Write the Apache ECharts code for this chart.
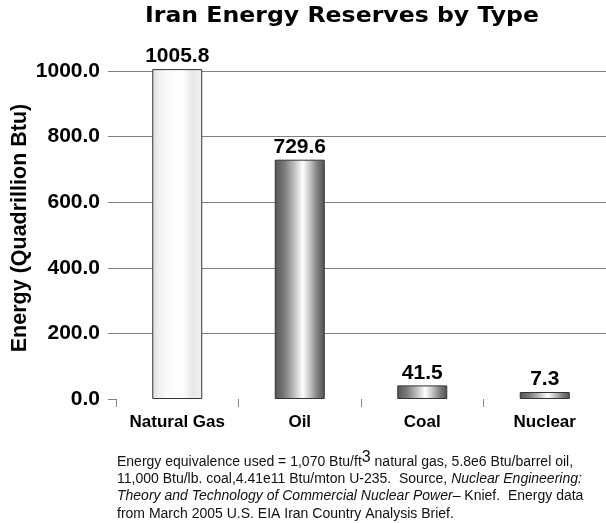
<!DOCTYPE html>
<html>
<head>
<meta charset="utf-8">
<script src="https://cdn.jsdelivr.net/npm/echarts@6/dist/echarts.min.js"></script>
<style>
  html, body { margin: 0; padding: 0; background: #fff; }
  #chart { width: 606px; height: 523px; }
</style>
</head>
<body>
<div id="chart"></div>
<script>
// Reserve types and their energy content (quadrillion Btu)
const categories = ['Natural Gas', 'Oil', 'Coal', 'Nuclear'];
const reserves = [1005.8, 729.6, 41.5, 7.3];
const yTicks = [0, 200, 400, 600, 800, 1000];

const FONT = '"Liberation Sans", Arial, sans-serif';
const TITLE_FONT = '"DejaVu Sans", "Liberation Sans", sans-serif';
const TITLE_TEXT = 'Iran Energy Reserves by Type';

// Footnote pieces: the first line carries a superscript cube
const noteHead = 'Energy equivalence used = 1,070 Btu/ft';
const noteSup = '3';
const noteTail = ' natural gas, 5.8e6 Btu/barrel oil,';
const noteRest = '{n|11,000 Btu/lb. coal,4.41e11 Btu/mton U-235.  Source, }{i|Nuclear Engineering:}\n' +
                 '{i|Theory and Technology of Commercial Nuclear Power}{n|– Knief.  Energy data}\n' +
                 '{n|from March 2005 U.S. EIA Iran Country Analysis Brief.}';

// Cylindrical shading: a pale tube for gas, a darker metal tube for the rest
function tube(stops) {
  return new echarts.graphic.LinearGradient(0, 0, 1, 0,
    stops.map(([offset, color]) => ({ offset, color })));
}
const paleTube = tube([[0, '#dcdcdc'], [0.12, '#eeeeee'], [0.3, '#fbfbfb'],
  [0.6, '#ffffff'], [0.82, '#e6e6e6'], [1, '#f2f2f2']]);
const darkTube = () => tube([[0, '#555555'], [0.18, '#777777'], [0.38, '#bbbbbb'],
  [0.56, '#ffffff'], [0.7, '#c6c6c6'], [0.86, '#7c7c7c'], [1, '#505050']]);

const measureCtx = document.createElement('canvas').getContext('2d');
function textWidth(text, font) {
  measureCtx.font = font;
  return measureCtx.measureText(text).width;
}
// Stretch the heavy title to its target span
const titleScaleX = 394 / textWidth(TITLE_TEXT, 'bold 22px ' + TITLE_FONT);

const NOTE_X = 117, NOTE_Y = 462, NOTE_LH = 17.3, NOTE_SIZE = 14, SUP_SIZE = 16;
const headW = textWidth(noteHead, NOTE_SIZE + 'px ' + FONT);
const supW = textWidth(noteSup, SUP_SIZE + 'px ' + FONT);

const chart = echarts.init(document.getElementById('chart'), null, { renderer: 'canvas' });

chart.setOption({
  animation: false,
  backgroundColor: '#ffffff',
  grid: { left: 116, right: -8, top: 71, bottom: 124, containLabel: false },
  xAxis: {
    type: 'category',
    data: categories,
    axisLine: { show: false },
    axisTick: { show: true, interval: 0, length: 8, lineStyle: { color: '#888' } },
    axisLabel: {
      interval: 0,
      margin: 15,
      fontFamily: FONT, fontWeight: 'bold', fontSize: 17, color: '#000'
    }
  },
  yAxis: {
    type: 'value',
    min: yTicks[0],
    max: yTicks[yTicks.length - 1],
    interval: yTicks[1] - yTicks[0],
    axisLine: { show: false },
    axisTick: { show: true, length: 8, lineStyle: { color: '#808080' } },
    splitLine: { show: true, showMinLine: false, lineStyle: { color: '#808080', width: 1 } },
    axisLabel: {
      margin: 16,
      formatter: v => v.toFixed(1),
      fontFamily: FONT, fontWeight: 'bold', fontSize: 21, color: '#000'
    }
  },
  series: [{
    type: 'bar',
    barWidth: 50,
    barMinHeight: 7,
    clip: false,
    data: reserves.map((v, i) => ({
      value: v,
      itemStyle: {
        color: i === 0 ? paleTube : darkTube(),
        borderColor: '#333',
        borderWidth: 1
      }
    })),
    label: {
      show: true,
      position: 'top',
      distance: 2,
      formatter: p => p.value.toFixed(1),
      fontFamily: FONT, fontWeight: 'bold', fontSize: 21, color: '#000'
    }
  }],
  graphic: [
    {
      type: 'text',
      x: 145,
      y: 5,
      scaleX: titleScaleX,
      style: {
        text: TITLE_TEXT,
        fontFamily: TITLE_FONT, fontWeight: 'bold', fontSize: 22, fill: '#000'
      }
    },
    {
      type: 'text',
      x: 20,
      y: 228,
      rotation: Math.PI / 2,
      style: {
        text: 'Energy (Quadrillion Btu)',
        align: 'center',
        verticalAlign: 'middle',
        fontFamily: FONT, fontWeight: 'bold', fontSize: 21.5, fill: '#000'
      }
    },
    // footnote, first line in three pieces so the exponent can sit raised
    {
      type: 'text', x: NOTE_X, y: NOTE_Y,
      style: { text: noteHead, verticalAlign: 'middle', fontFamily: FONT, fontSize: NOTE_SIZE, fill: '#111' }
    },
    {
      type: 'text', x: NOTE_X + headW, y: NOTE_Y - 4,
      style: { text: noteSup, verticalAlign: 'middle', fontFamily: FONT, fontSize: SUP_SIZE, fill: '#111' }
    },
    {
      type: 'text', x: NOTE_X + headW + supW, y: NOTE_Y,
      style: { text: noteTail, verticalAlign: 'middle', fontFamily: FONT, fontSize: NOTE_SIZE, fill: '#111' }
    },
    {
      type: 'text',
      x: NOTE_X,
      y: NOTE_Y + NOTE_LH / 2,
      style: {
        text: noteRest,
        rich: {
          n: { fontFamily: FONT, fontSize: NOTE_SIZE, fill: '#111', lineHeight: NOTE_LH },
          i: { fontFamily: FONT, fontSize: NOTE_SIZE, fontStyle: 'italic', fill: '#111', lineHeight: NOTE_LH }
        }
      }
    }
  ]
});
</script>
</body>
</html>
